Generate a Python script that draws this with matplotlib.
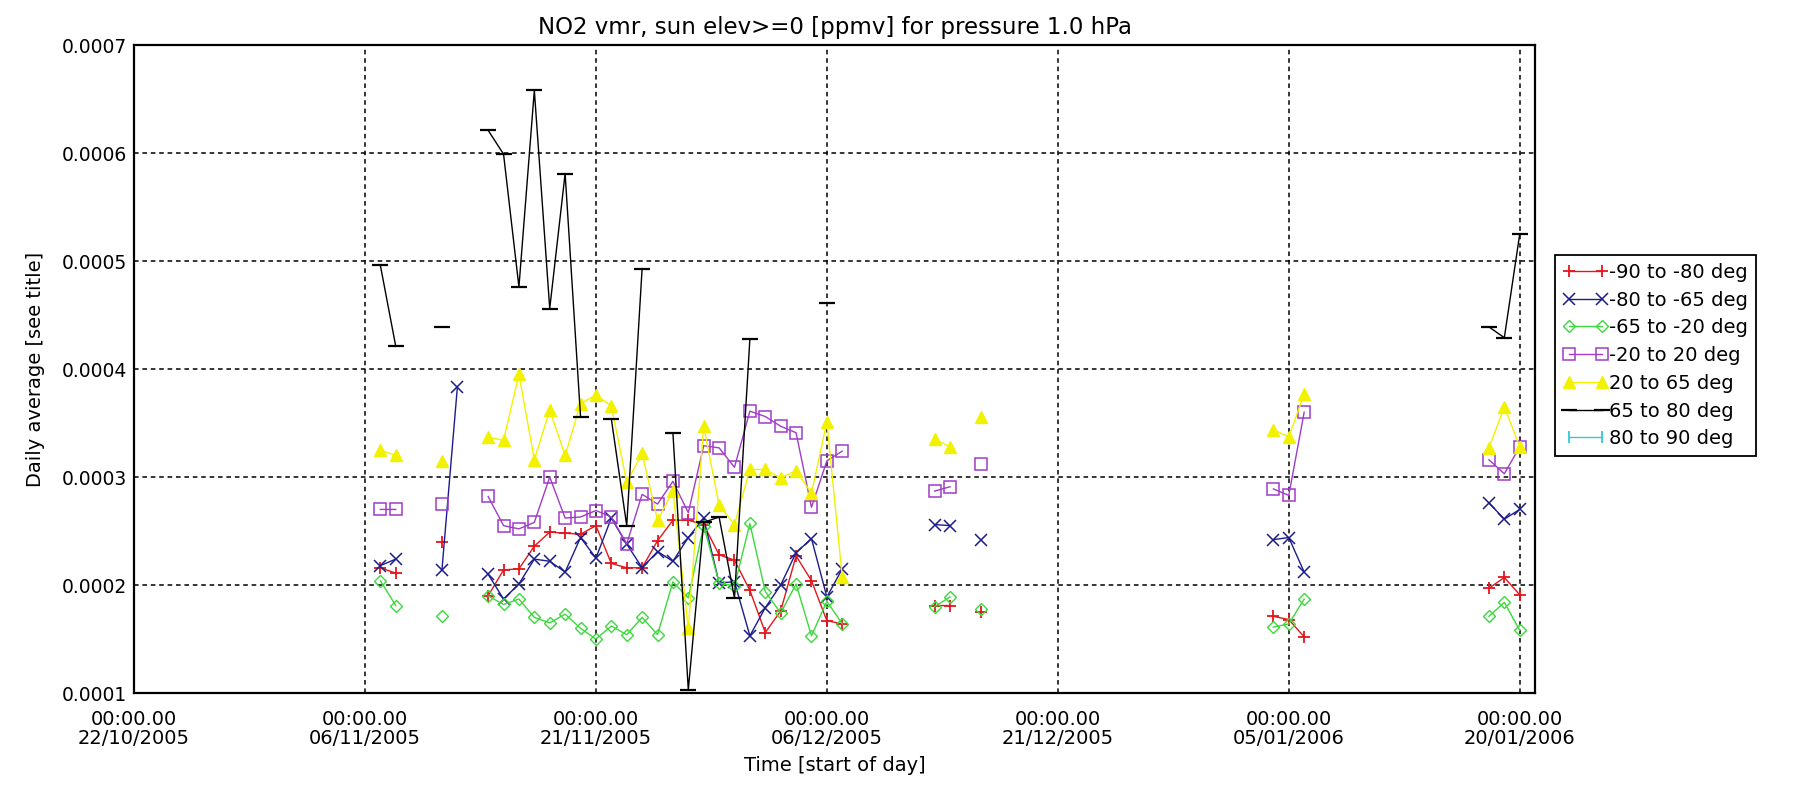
import numpy as np
import matplotlib
matplotlib.use("Agg")
import matplotlib.pyplot as plt
import matplotlib.dates as mdates
from datetime import datetime, timedelta

# days since 22/10/2005 (start of day), values in units of 1e-4 ppmv
start = datetime(2005, 10, 22)
days = [16, 17, 20, 21,
        23, 24, 25, 26, 27, 28, 29, 30, 31, 32, 33, 34, 35, 36, 37, 38, 39, 40,
        41, 42, 43, 44, 45, 46,
        52, 53, 55, 74, 75, 76, 88, 89, 90]
nan = np.nan

lat_m90_m80 = [2.16, 2.11, 2.40, nan,
               1.90, 2.14, 2.15, 2.36, 2.49, 2.48, 2.47, 2.55, 2.20, 2.16, 2.16, 2.41, 2.60, 2.60,
               2.56, 2.28, 2.23, 1.95, 1.56, 1.76, 2.27, 2.04, 1.67, 1.64,
               1.81, 1.81, 1.75, 1.71, 1.68, 1.52, 1.97, 2.07, 1.91]
lat_m80_m65 = [2.18, 2.24, 2.14, 3.83,
               2.10, 1.87, 2.01, 2.24, 2.22, 2.12, 2.44, 2.25, 2.62, 2.38, 2.16, 2.31, 2.22, 2.44,
               2.62, 2.02, 2.03, 1.53, 1.79, 2.00, 2.30, 2.43, 1.89, 2.15,
               2.56, 2.55, 2.42, 2.42, 2.44, 2.12, 2.76, 2.61, 2.70]
lat_m65_m20 = [2.04, 1.81, 1.71, nan,
               1.90, 1.82, 1.87, 1.70, 1.65, 1.73, 1.60, 1.50, 1.62, 1.54, 1.70, 1.54, 2.03, 1.88,
               2.55, 2.02, 1.99, 2.57, 1.94, 1.74, 2.01, 1.53, 1.85, 1.64,
               1.80, 1.89, 1.78, 1.61, 1.64, 1.87, 1.71, 1.84, 1.58]
lat_m20_20 = [2.70, 2.70, 2.75, nan,
              2.82, 2.55, 2.52, 2.58, 3.00, 2.62, 2.63, 2.69, 2.63, 2.38, 2.84, 2.75, 2.96, 2.67,
              3.29, 3.27, 3.09, 3.61, 3.56, 3.47, 3.41, 2.72, 3.15, 3.24,
              2.87, 2.91, 3.12, 2.89, 2.83, 3.60, 3.16, 3.03, 3.28]
lat_20_65 = [3.25, 3.20, 3.15, nan,
             3.37, 3.34, 3.95, 3.16, 3.62, 3.20, 3.68, 3.76, 3.66, 2.95, 3.22, 2.60, 2.87, 1.60,
             3.47, 2.74, 2.56, 3.07, 3.07, 2.99, 3.06, 2.85, 3.51, 2.07,
             3.35, 3.28, 3.56, 3.44, 3.37, 3.77, 3.27, 3.65, 3.28]
lat_65_80 = [4.96, 4.21, 4.39, nan,
             6.21, 5.99, 4.76, 6.58, 4.56, 5.81, 3.56, nan, 3.54, 2.55, 4.93, nan, 3.41, 1.03,
             2.58, 2.63, 1.88, 4.28, nan, nan, nan, nan, 4.61, nan,
             nan, nan, nan, nan, nan, nan, 4.39, 4.29, 5.25]
lat_80_90 = [nan] * len(days)

labels = ["-90 to -80 deg", "-80 to -65 deg", "-65 to -20 deg", "-20 to 20 deg",
          "20 to 65 deg", "65 to 80 deg", "80 to 90 deg"]
tick_dates = ["22/10/2005", "06/11/2005", "21/11/2005", "06/12/2005",
              "21/12/2005", "05/01/2006", "20/01/2006"]
y_ticks = [0.0001, 0.0002, 0.0003, 0.0004, 0.0005, 0.0006, 0.0007]


def with_gaps(day_list, vals):
    # break the line wherever a day is missing
    x0 = mdates.date2num(start)
    xs, ys = [], []
    for i, (d, v) in enumerate(zip(day_list, vals)):
        if i > 0 and d - day_list[i - 1] > 1:
            xs.append(np.nan)
            ys.append(np.nan)
        xs.append(x0 + d)
        ys.append(v * 1e-4)
    return xs, ys


fig = plt.figure(figsize=(17.94, 7.87), dpi=100)
ax = fig.add_axes([0.0747, 0.1194, 0.781, 0.8234])

styles = [
    dict(color="#e3161c", marker="+", ms=9, mew=1.3),
    dict(color="#1c1c8c", marker="x", ms=9, mew=1.1),
    dict(color="#3cd83c", marker="D", ms=6.5, mfc="none", mew=1.0),
    dict(color="#a03cc8", marker="s", ms=8, mfc="none", mew=1.1),
    dict(color="#f2f200", marker="^", ms=8, mfc="#f2f200", mew=1.0),
    dict(color="black", marker="_", ms=11, mew=1.6),
    dict(color="#33c8d8", marker="|", ms=9, mew=1.3),
]
series = [lat_m90_m80, lat_m80_m65, lat_m65_m20, lat_m20_20, lat_20_65, lat_65_80, lat_80_90]

handles = []
for vals, st, lab in zip(series, styles, labels):
    xs, ys = with_gaps(days, vals)
    h, = ax.plot(xs, ys, lw=1.0, label=lab, **st)
    handles.append(h)

# axes
ax.set_xlim(mdates.date2num(start), mdates.date2num(start + timedelta(days=91)))
ax.set_ylim(0.0001, 0.0007)
tick_pos = [mdates.date2num(datetime.strptime(t, "%d/%m/%Y")) for t in tick_dates]
ax.set_xticks(tick_pos)
ax.set_xticklabels(["00:00.00\n" + t for t in tick_dates], fontsize=14, linespacing=1.0)
ax.set_yticks(y_ticks)
ax.set_yticklabels(["%.4f" % v for v in y_ticks], fontsize=13.5)
ax.tick_params(axis="x", length=0, pad=12)
ax.tick_params(axis="y", length=0, pad=5)
ax.grid(True, color="black", linestyle=(0, (3, 2.5)), linewidth=1.1)
for s in ax.spines.values():
    s.set_linewidth(1.6)

ax.set_title("NO2 vmr, sun elev>=0 [ppmv] for pressure 1.0 hPa", fontsize=16.5, pad=8)
ax.set_xlabel("Time [start of day]", fontsize=14, labelpad=6)
ax.set_ylabel("Daily average [see title]", fontsize=14, labelpad=12)

leg = fig.legend(handles, labels, loc="upper left", bbox_to_anchor=(0.8668, 0.676),
                 fontsize=14, numpoints=2, handlelength=2.3, handletextpad=0.1,
                 labelspacing=0.45, borderpad=0.4, borderaxespad=0, fancybox=False,
                 framealpha=1)
leg.get_frame().set_edgecolor("black")
leg.get_frame().set_linewidth(1.3)

fig.savefig("out.png", dpi=100)
